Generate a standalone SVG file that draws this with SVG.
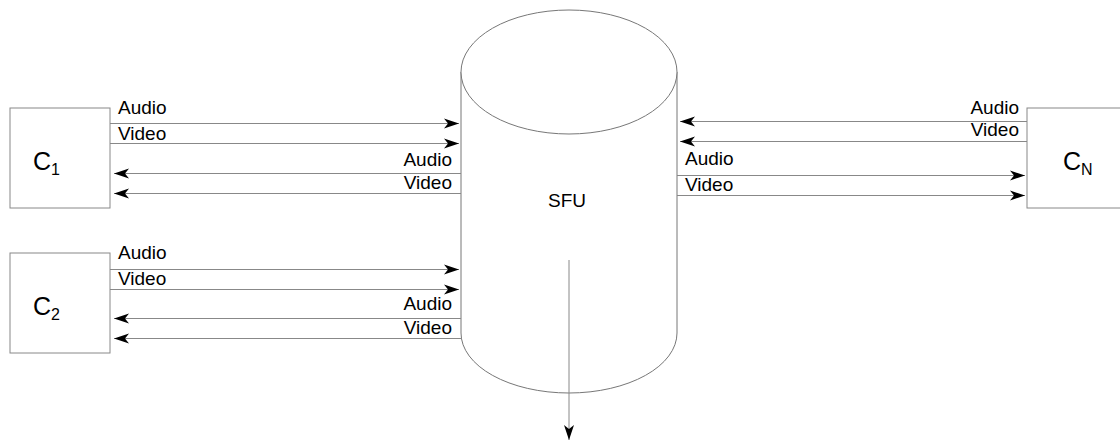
<svg xmlns="http://www.w3.org/2000/svg" width="1120" height="442" viewBox="0 0 1120 442">
  <style>
    .box { fill: #fff; stroke: #888; stroke-width: 1; }
    .cyl { fill: #fff; stroke: #777; stroke-width: 1; }
    .flow { fill: none; stroke: #888; stroke-width: 1; }
    .lbl { font-family: "Liberation Sans", Arial, sans-serif; font-size: 19px; fill: #000; }
    .name { font-family: "Liberation Sans", Arial, sans-serif; font-size: 25px; fill: #000; }
    .sub { font-size: 16px; }
    .end { text-anchor: end; }
  </style>
  <defs>
    <marker id="arrow" markerUnits="userSpaceOnUse" markerWidth="16" markerHeight="12" refX="15" refY="6" orient="auto">
      <path d="M0,1 L15,6 L0,11 L4,6 Z" fill="#000"/>
    </marker>
  </defs>
  <rect width="1120" height="442" fill="#fff"/>

  <!-- SFU server drawn as a cylinder -->
  <g id="sfu">
    <path class="cyl" d="M461,72 L461,333 A108,60 0 0 0 677,333 L677,72"/>
    <ellipse class="cyl" cx="569" cy="72" rx="108" ry="62"/>
    <text class="lbl" x="567" y="207" text-anchor="middle">SFU</text>
  </g>

  <g id="c1">
    <rect class="box" x="10" y="108" width="100" height="100"/>
    <text class="name" x="33" y="170">C<tspan class="sub" dy="5">1</tspan></text>
  </g>

  <g id="c2">
    <rect class="box" x="10" y="253" width="100" height="100"/>
    <text class="name" x="33" y="315">C<tspan class="sub" dy="5">2</tspan></text>
  </g>

  <g id="cn">
    <rect class="box" x="1027" y="108" width="100" height="100"/>
    <text class="name" x="1063" y="170">C<tspan class="sub" dy="5">N</tspan></text>
  </g>

  <g id="connectors">
    <!-- C1 <-> SFU -->
    <line class="flow" x1="110" y1="123.5" x2="459" y2="123.5" marker-end="url(#arrow)"/>
    <line class="flow" x1="110" y1="143.5" x2="459" y2="143.5" marker-end="url(#arrow)"/>
    <line class="flow" x1="461" y1="173.5" x2="114" y2="173.5" marker-end="url(#arrow)"/>
    <line class="flow" x1="461" y1="193.5" x2="114" y2="193.5" marker-end="url(#arrow)"/>
    <!-- C2 <-> SFU -->
    <line class="flow" x1="110" y1="269.5" x2="459" y2="269.5" marker-end="url(#arrow)"/>
    <line class="flow" x1="110" y1="289.5" x2="459" y2="289.5" marker-end="url(#arrow)"/>
    <line class="flow" x1="461" y1="318.5" x2="114" y2="318.5" marker-end="url(#arrow)"/>
    <line class="flow" x1="461" y1="338.5" x2="114" y2="338.5" marker-end="url(#arrow)"/>
    <!-- CN <-> SFU -->
    <line class="flow" x1="1027" y1="121.5" x2="680" y2="121.5" marker-end="url(#arrow)"/>
    <line class="flow" x1="1027" y1="141.5" x2="680" y2="141.5" marker-end="url(#arrow)"/>
    <line class="flow" x1="677" y1="175.5" x2="1025" y2="175.5" marker-end="url(#arrow)"/>
    <line class="flow" x1="677" y1="195.5" x2="1025" y2="195.5" marker-end="url(#arrow)"/>
    <!-- outbound from SFU -->
    <line class="flow" x1="569" y1="260" x2="569" y2="440" stroke="#555" marker-end="url(#arrow)"/>

    <text class="lbl" x="118" y="114">Audio</text>
    <text class="lbl" x="118" y="140">Video</text>
    <text class="lbl end" x="452" y="166">Audio</text>
    <text class="lbl end" x="452" y="189">Video</text>

    <text class="lbl" x="118" y="259">Audio</text>
    <text class="lbl" x="118" y="285">Video</text>
    <text class="lbl end" x="452" y="310">Audio</text>
    <text class="lbl end" x="452" y="334">Video</text>

    <text class="lbl end" x="1019" y="114">Audio</text>
    <text class="lbl end" x="1019" y="136">Video</text>
    <text class="lbl" x="685" y="165">Audio</text>
    <text class="lbl" x="685" y="191">Video</text>
  </g>
</svg>
